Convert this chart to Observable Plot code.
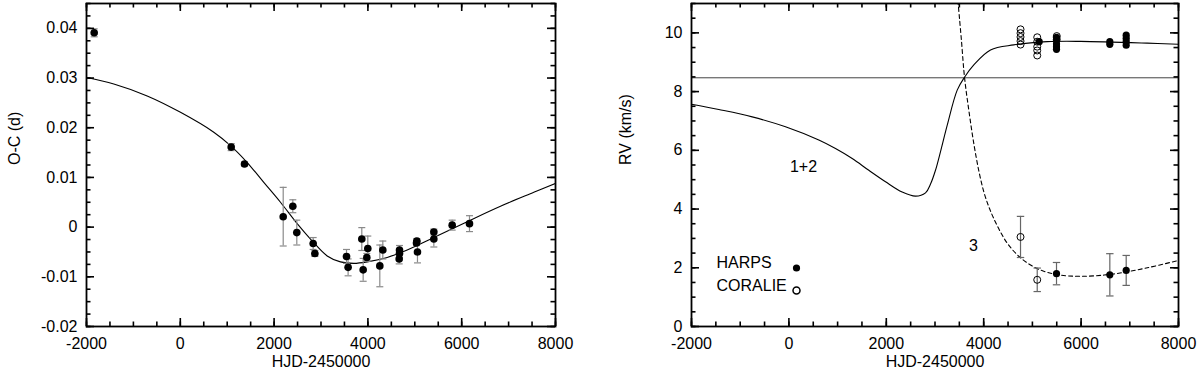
<!DOCTYPE html>
<html><head><meta charset="utf-8">
<script src="https://cdn.jsdelivr.net/npm/d3@7"></script>
<script src="https://cdn.jsdelivr.net/npm/@observablehq/plot@0.6"></script>
<style>
body{margin:0;background:#fff;}
#wrap{display:flex;width:1200px;height:374px;}
</style></head><body><div id="wrap"></div>
<script>
// ---------- Left panel: O-C ----------
const ocX   = [-1836, 1085, 1369, 2194, 2399, 2484, 2833, 2869, 3544, 3578, 3870, 3899, 3998, 3977, 4254, 4318, 4674, 4674, 4667, 5043, 5036, 5057, 5406, 5406, 5797, 6166];
const ocY   = [0.0391, 0.0161, 0.0127, 0.0021, 0.0042, -0.0011, -0.0033, -0.0053, -0.0059, -0.0081, -0.0024, -0.0086, -0.0043, -0.0061, -0.0078, -0.0046, -0.0046, -0.0053, -0.0064, -0.0028, -0.0032, -0.0050, -0.0010, -0.0024, 0.0004, 0.0007];
const ocErr = [0.0008, 0.0007, 0.0004, 0.0059, 0.0013, 0.0025, 0.0012, 0.0006, 0.0014, 0.0017, 0.0023, 0.0023, 0.0025, 0.0008, 0.0042, 0.0018, 0.0009, 0.0009, 0.0010, 0.0005, 0.0005, 0.0022, 0.0006, 0.0016, 0.0010, 0.0016];
const ocFitX = [-2000, -1418, -706, 4, 714, 1070, 1426, 1780, 2136, 2492, 2776, 3132, 3416, 3700, 3985, 4411, 4838, 5405, 6117, 6827, 7537, 8000];
const ocFitY = [0.0301, 0.0288, 0.0264, 0.0231, 0.0191, 0.0164, 0.0130, 0.0090, 0.0050, 0.0007, -0.0024, -0.0058, -0.0070, -0.0073, -0.0070, -0.0061, -0.0046, -0.0021, 0.0011, 0.0042, 0.0070, 0.0088];
const ocXTicks = [-2000, 0, 2000, 4000, 6000, 8000];
const ocYTicks = [-0.02, -0.01, 0, 0.01, 0.02, 0.03, 0.04];

// ---------- Right panel: RV ----------
const harpsX   = [5140, 5495, 5495, 5495, 5495, 5495, 6590, 6590, 6926, 6926, 6926, 6926, 5495, 6590, 6926];
const harpsY   = [9.70, 9.85, 9.74, 9.62, 9.53, 9.44, 9.70, 9.61, 9.92, 9.81, 9.70, 9.58, 1.80, 1.76, 1.91];
const harpsErr = [0, 0, 0, 0, 0, 0, 0, 0, 0, 0, 0, 0, 0.38, 0.72, 0.51];
const coralieX   = [4756, 4756, 4756, 4756, 4756, 5099, 5099, 5099, 5099, 5099, 5500, 5500, 4756, 5099];
const coralieY   = [10.12, 9.99, 9.86, 9.72, 9.60, 9.85, 9.70, 9.53, 9.40, 9.23, 9.89, 9.78, 3.05, 1.59];
const coralieErr = [0, 0, 0, 0, 0, 0, 0, 0, 0, 0, 0, 0, 0.70, 0.40];
const rv12X = [-2000, -1439, -754, -70, 614, 957, 1300, 1641, 1984, 2326, 2600, 2805, 2908, 3010, 3120, 3250, 3456, 3606, 3797, 4140, 4619, 5304, 5988, 7357, 8000];
const rv12Y = [7.57, 7.39, 7.14, 6.80, 6.35, 6.06, 5.72, 5.32, 4.93, 4.58, 4.44, 4.55, 4.85, 5.32, 6.00, 6.85, 8.05, 8.49, 8.91, 9.42, 9.59, 9.70, 9.71, 9.65, 9.61];
const rv3X = [3470, 3540, 3606, 3700, 3800, 3900, 4000, 4100, 4200, 4350, 4500, 4750, 5100, 5500, 6000, 6670, 7360, 8000];
const rv3Y = [11.1, 9.8, 8.49, 7.3, 6.2, 5.3, 4.6, 4.1, 3.7, 3.2, 2.8, 2.35, 1.97, 1.77, 1.71, 1.79, 2.0, 2.25];
const gammaRV = 8.47;
const rvXTicks = [-2000, 0, 2000, 4000, 6000, 8000];
const rvYTicks = [0, 2, 4, 6, 8, 10];
const legendLabels = ["HARPS", "CORALIE"];
const curveLabels = ["1+2", "3"];

// ---------- helpers ----------
const FONT = "'Liberation Sans', Arial, Helvetica, sans-serif";
const H = 374, MT = 3, MB = 48;
const capSymbol = {draw(ctx, size) { const w = Math.sqrt(size / Math.PI); ctx.moveTo(-w, 0); ctx.lineTo(w, 0); }};
const rows = (xs, ys, es) => xs.map((x, i) => ({x, y: ys[i], e: es ? es[i] : 0}));

// inward ticks on all four sides as rows with explicit start/end in data units
function tickRows(ticks, fixed, len) { return ticks.map(t => ({t, a: fixed, b: fixed + len})); }

function frameAxes(plotW, xDom, yDom, xMajor, xMinor, yMajor, yMinor) {
  const plotH = H - MT - MB;
  const kx = (xDom[1] - xDom[0]) / plotW, ky = (yDom[1] - yDom[0]) / plotH;
  const m = [];
  const sw = 1.6;
  for (const [ticks, L] of [[xMinor, 4.5], [xMajor, 8]]) {
    m.push(Plot.ruleX(tickRows(ticks, yDom[0], L * ky), {x: "t", y1: "a", y2: "b", stroke: "#000", strokeWidth: sw}));
    m.push(Plot.ruleX(tickRows(ticks, yDom[1], -L * ky), {x: "t", y1: "a", y2: "b", stroke: "#000", strokeWidth: sw}));
  }
  for (const [ticks, L] of [[yMinor, 4.5], [yMajor, 8]]) {
    m.push(Plot.ruleY(tickRows(ticks, xDom[0], L * kx), {y: "t", x1: "a", x2: "b", stroke: "#000", strokeWidth: sw}));
    m.push(Plot.ruleY(tickRows(ticks, xDom[1], -L * kx), {y: "t", x1: "a", x2: "b", stroke: "#000", strokeWidth: sw}));
  }
  m.push(Plot.axisX(xMajor, {anchor: "bottom", tickSize: 0, tickPadding: 11, tickFormat: d => String(d), label: null}));
  m.push(Plot.axisY(yMajor, {anchor: "left", tickSize: 0, tickPadding: 9, tickFormat: d => String(d), label: null}));
  m.push(Plot.frame({stroke: "black", strokeWidth: 1.8, fill: "none"}));
  return m;
}

function errorMarks(data, stroke, r) {
  const d = data.filter(p => p.e > 0);
  return [
    Plot.ruleX(d, {x: "x", y1: p => p.y - p.e, y2: p => p.y + p.e, stroke, strokeWidth: 1.2}),
    Plot.dot(d, {x: "x", y: p => p.y + p.e, symbol: capSymbol, r, stroke, strokeWidth: 1.2, fill: "none"}),
    Plot.dot(d, {x: "x", y: p => p.y - p.e, symbol: capSymbol, r, stroke, strokeWidth: 1.2, fill: "none"})
  ];
}

// ---------- left chart ----------
const oc = rows(ocX, ocY, ocErr);
const ocFit = rows(ocFitX, ocFitY);
const LW = 600, LML = 86, LMR = 45;
const ocXDom = [-2000, 8000], ocYDom = [-0.02, 0.045];
const left = Plot.plot({
  width: LW, height: H,
  marginLeft: LML, marginRight: LMR, marginTop: MT, marginBottom: MB,
  style: {fontFamily: FONT, fontSize: "16px", background: "white", overflow: "visible", color: "black"},
  x: {domain: ocXDom},
  y: {domain: ocYDom},
  marks: [
    Plot.line(ocFit, {x: "x", y: "y", curve: "catmull-rom", stroke: "black", strokeWidth: 1.1, clip: true}),
    ...errorMarks(oc, "#8a8a8a", 3.5),
    Plot.dot(oc, {x: "x", y: "y", r: 3.8, fill: "black", stroke: "none"}),
    ...frameAxes(LW - LML - LMR, ocXDom, ocYDom, ocXTicks, d3.range(-2000, 8001, 500), ocYTicks, d3.range(-0.02, 0.0451, 0.0025)),
    Plot.text(["HJD-2450000"], {frameAnchor: "bottom", dy: 40, text: d => d}),
    Plot.text(["O-C (d)"], {frameAnchor: "left", dx: -72, rotate: -90, text: d => d})
  ]
});

// ---------- right chart ----------
const harps = rows(harpsX, harpsY, harpsErr);
const coralie = rows(coralieX, coralieY, coralieErr);
const RW = 600, RML = 91, RMR = 22;
const rvXDom = [-2000, 8000], rvYDom = [0, 11];
const right = Plot.plot({
  width: RW, height: H,
  marginLeft: RML, marginRight: RMR, marginTop: MT, marginBottom: MB,
  style: {fontFamily: FONT, fontSize: "16px", background: "white", overflow: "visible", color: "black"},
  x: {domain: rvXDom},
  y: {domain: rvYDom},
  marks: [
    Plot.ruleY([gammaRV], {stroke: "#444", strokeWidth: 1}),
    Plot.line(rows(rv12X, rv12Y), {x: "x", y: "y", curve: "catmull-rom", stroke: "black", strokeWidth: 1.1, clip: true}),
    Plot.line(rows(rv3X, rv3Y), {x: "x", y: "y", curve: "catmull-rom", stroke: "black", strokeWidth: 1.1, strokeDasharray: "4,3", clip: true}),
    ...errorMarks(coralie, "#666", 3.7),
    ...errorMarks(harps, "#666", 3.7),
    Plot.dot(coralie, {x: "x", y: "y", r: 3.5, fill: "none", stroke: "black", strokeWidth: 1}),
    Plot.dot(harps, {x: "x", y: "y", r: 3.6, fill: "black", stroke: "none"}),
    Plot.text([curveLabels[0]], {frameAnchor: "top-left", dx: 112, dy: 157, text: d => d, textAnchor: "middle"}),
    Plot.text([curveLabels[1]], {frameAnchor: "top-left", dx: 282, dy: 236, text: d => d, textAnchor: "middle"}),
    Plot.text([legendLabels[0]], {frameAnchor: "bottom-left", dx: 25, dy: -58.5, text: d => d, textAnchor: "start"}),
    Plot.text([legendLabels[1]], {frameAnchor: "bottom-left", dx: 25, dy: -36, text: d => d, textAnchor: "start"}),
    Plot.dot([legendLabels[0]], {frameAnchor: "bottom-left", dx: 105, dy: -58.5, r: 3.6, fill: "black"}),
    Plot.dot([legendLabels[1]], {frameAnchor: "bottom-left", dx: 105, dy: -36, r: 3.5, fill: "none", stroke: "black"}),
    ...frameAxes(RW - RML - RMR, rvXDom, rvYDom, rvXTicks, d3.range(-2000, 8001, 500), rvYTicks, d3.range(0, 11.01, 0.5)),
    Plot.text(["HJD-2450000"], {frameAnchor: "bottom", dy: 40, text: d => d}),
    Plot.text(["RV (km/s)"], {frameAnchor: "left", dx: -66, rotate: -90, text: d => d})
  ]
});

document.getElementById("wrap").append(left, right);
</script></body></html>
